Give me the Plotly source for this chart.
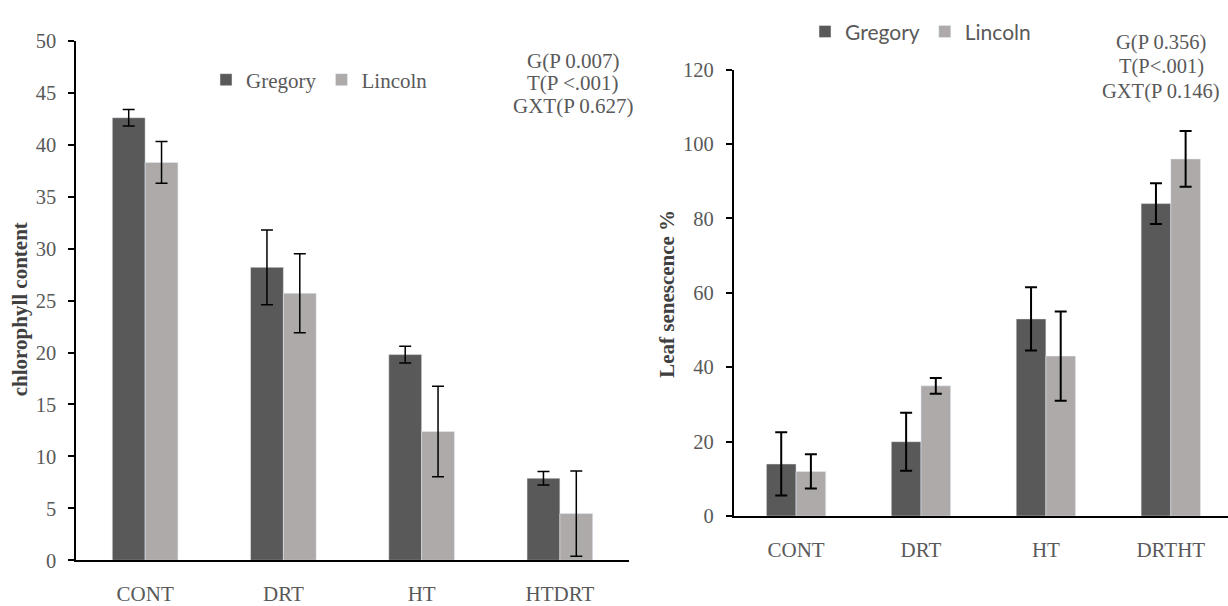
import plotly.graph_objects as go

# ---- data ----
chl_categories = ["CONT", "DRT", "HT", "HTDRT"]
chl_gregory = [42.6, 28.2, 19.8, 7.9]
chl_gregory_err = [0.8, 3.6, 0.8, 0.65]
chl_lincoln = [38.3, 25.7, 12.4, 4.5]
chl_lincoln_err = [2.0, 3.8, 4.35, 4.1]

sen_categories = ["CONT", "DRT", "HT", "DRTHT"]
sen_gregory = [14, 20, 53, 84]
sen_gregory_err = [8.5, 7.8, 8.5, 5.5]
sen_lincoln = [12, 35, 43, 96]
sen_lincoln_err = [4.6, 2.1, 12, 7.5]

series_names = ["Gregory", "Lincoln"]
left_stats = ["G(P 0.007)", "T(P <.001)", "GXT(P 0.627)"]
right_stats = ["G(P 0.356)", "T(P<.001)", "GXT(P 0.146)"]

W, H = 1228, 606
def px(x):
    return x / W
def py(y):
    return 1 - y / H

DARK = "#595959"
LIGHT = "#AEAAAA"
TXT = "#595959"
SERIF = "Liberation Serif"
SANS = "Lato"

fig = go.Figure()

fig.add_trace(go.Bar(x=chl_categories, y=chl_gregory, name=series_names[0], marker_color=DARK,
                     error_y=dict(type="data", array=chl_gregory_err, color="black", thickness=1.5, width=6),
                     xaxis="x", yaxis="y", legend="legend"))
fig.add_trace(go.Bar(x=chl_categories, y=chl_lincoln, name=series_names[1], marker_color=LIGHT,
                     error_y=dict(type="data", array=chl_lincoln_err, color="black", thickness=1.5, width=6),
                     xaxis="x", yaxis="y", legend="legend"))
fig.add_trace(go.Bar(x=sen_categories, y=sen_gregory, name=series_names[0], marker_color=DARK,
                     error_y=dict(type="data", array=sen_gregory_err, color="black", thickness=2, width=6),
                     xaxis="x2", yaxis="y2", legend="legend2"))
fig.add_trace(go.Bar(x=sen_categories, y=sen_lincoln, name=series_names[1], marker_color=LIGHT,
                     error_y=dict(type="data", array=sen_lincoln_err, color="black", thickness=2, width=6),
                     xaxis="x2", yaxis="y2", legend="legend2"))

xcommon = dict(type="category", showline=True, linecolor="black", linewidth=1.5, ticks="",
               showgrid=False, zeroline=False, tickfont=dict(family=SERIF, size=21, color=TXT),
               ticklabelstandoff=14)
ycommon = dict(showline=True, linecolor="black", linewidth=1.5, ticks="outside", ticklen=6,
               tickcolor="black", tickwidth=1.5, showgrid=False, zeroline=False,
               tickfont=dict(family=SERIF, size=20.5, color=TXT), ticklabelstandoff=8)

fig.update_layout(
    width=W, height=H,
    margin=dict(l=0, r=0, t=0, b=0),
    font=dict(family=SERIF, color=TXT),
    paper_bgcolor="white", plot_bgcolor="white",
    barmode="group", bargap=0.525, bargroupgap=0,
    xaxis=dict(domain=[px(76), px(629)], range=[-0.5, 3.5], anchor="y", **xcommon),
    yaxis=dict(domain=[py(571), py(31)], range=[0, 50], dtick=5, anchor="x", **ycommon),
    xaxis2=dict(domain=[px(733.6), 1.0], range=[-0.5, 3.458], anchor="y2", **xcommon),
    yaxis2=dict(domain=[py(525), py(61)], range=[0, 120], dtick=20, anchor="x2", **ycommon),
    legend=dict(orientation="h", x=px(206), y=py(71.7), xanchor="left", yanchor="middle",
                font=dict(family=SERIF, size=21, color=TXT), bgcolor="rgba(0,0,0,0)"),
    legend2=dict(orientation="h", x=px(805), y=py(21.7), xanchor="left", yanchor="middle",
                 font=dict(family=SANS, size=21, color=TXT), bgcolor="rgba(0,0,0,0)"),
    showlegend=True,
)

anns = []
for txt, yy in zip(left_stats, [51.7, 75, 98.3]):
    anns.append(dict(text=txt, x=px(573), y=py(yy), xref="paper", yref="paper",
                     xanchor="center", yanchor="middle", showarrow=False,
                     font=dict(family=SERIF, size=21, color=TXT)))
for txt, yy in zip(right_stats, [32.3, 57.3, 83.3]):
    anns.append(dict(text=txt, x=px(1161), y=py(yy), xref="paper", yref="paper",
                     xanchor="center", yanchor="middle", showarrow=False,
                     font=dict(family=SERIF, size=20.5, color=TXT)))
anns.append(dict(text="<b>chlorophyll content</b>", x=px(20), y=py(310), xref="paper", yref="paper",
                 xanchor="center", yanchor="middle", textangle=-90, showarrow=False,
                 font=dict(family=SERIF, size=21, color="#404040")))
anns.append(dict(text="<b>Leaf senescence %</b>", x=px(667), y=py(294), xref="paper", yref="paper",
                 xanchor="center", yanchor="middle", textangle=-90, showarrow=False,
                 font=dict(family=SERIF, size=21, color="#404040")))
fig.update_layout(annotations=anns)

fig.write_html("out.html")
